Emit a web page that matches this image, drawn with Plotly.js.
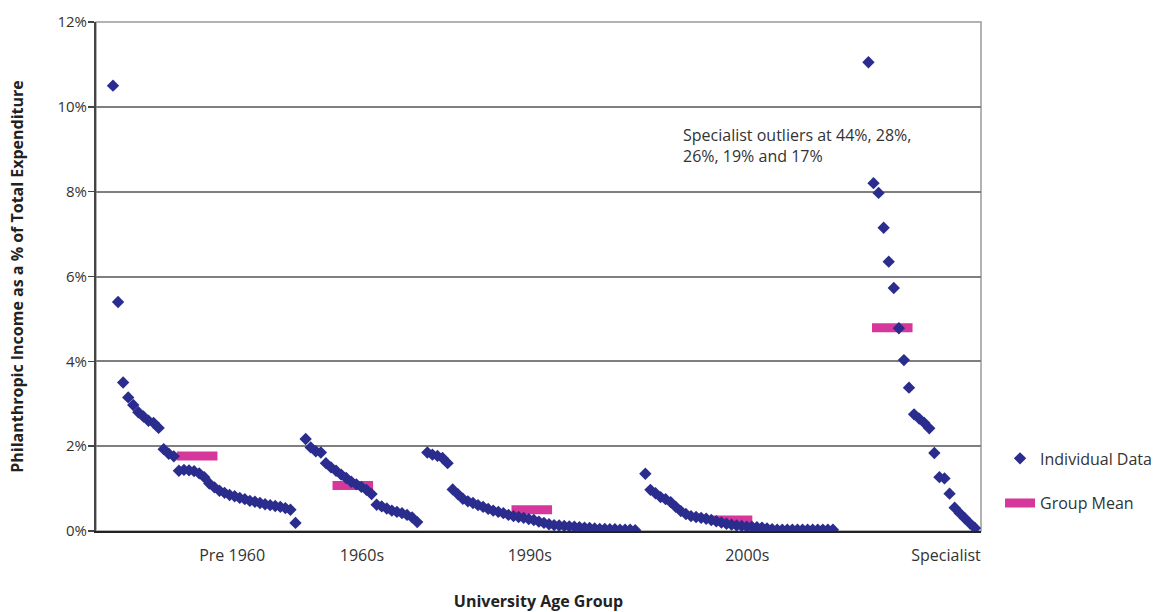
<!DOCTYPE html>
<html>
<head>
<meta charset="utf-8">
<script src="https://cdn.plot.ly/plotly-3.0.1.min.js"></script>
<style>html,body{margin:0;padding:0;background:#fff;}#chart{width:1168px;height:612px;}</style>
</head>
<body>
<div id="chart"></div>
<script>
// ---- Data (philanthropic income as % of total expenditure) ----
const groups = ["Pre 1960", "1960s", "1990s", "2000s", "Specialist"];

const pre1960 = [10.5, 5.4, 3.5, 3.15, 2.97, 2.8, 2.7, 2.6, 2.55, 2.43,
  1.93, 1.82, 1.76, 1.42, 1.44, 1.43, 1.41, 1.36, 1.27, 1.12,
  1.03, 0.95, 0.9, 0.85, 0.82, 0.78, 0.75, 0.71, 0.69, 0.66,
  0.63, 0.61, 0.59, 0.57, 0.54, 0.5, 0.19];

const sixties = [2.17, 1.97, 1.88, 1.85, 1.6, 1.5, 1.42, 1.33, 1.25, 1.16,
  1.1, 1.04, 0.97, 0.87, 0.62, 0.58, 0.53, 0.48, 0.45, 0.42,
  0.38, 0.32, 0.21];

const nineties = [1.85, 1.8, 1.77, 1.72, 1.6, 0.98, 0.87, 0.76, 0.7, 0.66,
  0.61, 0.57, 0.52, 0.48, 0.45, 0.42, 0.38, 0.35, 0.33, 0.31,
  0.28, 0.26, 0.22, 0.19, 0.16, 0.14, 0.13, 0.12, 0.11, 0.1,
  0.09, 0.08, 0.07, 0.06, 0.05, 0.05, 0.04, 0.04, 0.03, 0.03,
  0.03, 0.02];

const twoThousands = [1.35, 0.97, 0.89, 0.8, 0.75, 0.68, 0.57, 0.47, 0.4, 0.35,
  0.33, 0.31, 0.29, 0.26, 0.23, 0.2, 0.17, 0.15, 0.13, 0.12,
  0.1, 0.1, 0.09, 0.08, 0.06, 0.04, 0.03, 0.03, 0.03, 0.03,
  0.03, 0.03, 0.03, 0.03, 0.03, 0.03, 0.03, 0.03];

// first five are the off-scale outliers (44%, 28%, 26%, 19%, 17%)
const specialist = [44, 28, 26, 19, 17,
  11.05, 8.2, 7.97, 7.15, 6.35, 5.73, 4.78, 4.03, 3.38, 2.75,
  2.65, 2.55, 2.42, 1.84, 1.27, 1.24, 0.88, 0.55, 0.42, 0.3,
  0.18, 0.07];

const groupMean = [1.77, 1.07, 0.5, 0.26, 4.79];
const meanX = [17.6, 48.3, 83.6, 123.1, 154.7];   // x-value of each group-mean mark
const labelX = [24.5, 50.1, 83.2, 126.1, 165.3];  // x-value of each group label

// ---- Build series: institutions numbered in sequence, one empty slot between groups ----
const series = [pre1960, sixties, nineties, twoThousands, specialist];
const indX = [], indY = [];
let idx = 1;
series.forEach(function (s) {
  s.forEach(function (v) { indX.push(idx); indY.push(v); idx++; });
  idx++; // gap between groups
});

const HALF = 4;
const meanXs = [], meanYs = [];
groupMean.forEach(function (m, i) {
  meanXs.push(meanX[i] - HALF, meanX[i] + HALF, null);
  meanYs.push(m, m, null);
});

const FONT = "Open Sans, Noto Sans, sans-serif";

const traces = [
  {
    type: "scatter", mode: "lines", name: "Group Mean",
    x: meanXs, y: meanYs,
    line: { color: "#d6379b", width: 9 },
    legendrank: 2, legendgroup: "b", hoverinfo: "skip"
  },
  {
    type: "scatter", mode: "markers", name: "Individual Data",
    x: indX, y: indY,
    marker: { symbol: "diamond", size: 9.5, color: "#2b2d8e" },
    legendrank: 1, legendgroup: "a"
  }
];

const layout = {
  width: 1168, height: 612,
  margin: { l: 96, r: 187, t: 22, b: 81, pad: 0, autoexpand: false },
  paper_bgcolor: "#ffffff", plot_bgcolor: "#ffffff",
  font: { family: FONT, color: "#333333", size: 14 },
  showlegend: true,
  legend: {
    x: 1.0215, y: 0.176, xanchor: "left", yanchor: "top",
    font: { family: FONT, size: 16, color: "#333333" },
    tracegroupgap: 21, traceorder: "grouped", bgcolor: "rgba(0,0,0,0)"
  },
  xaxis: {
    range: [-2.35, 172.2],
    tickmode: "array", tickvals: labelX, ticktext: groups,
    ticks: "", ticklabelstandoff: 9,
    tickfont: { family: FONT, size: 16, color: "#333333" },
    showgrid: false, zeroline: false,
    showline: true, linecolor: "#222222", linewidth: 2,
    title: { text: "University Age Group", standoff: 32,
      font: { family: FONT, size: 16, color: "#222222", weight: "bold" } },
    automargin: false, fixedrange: true
  },
  yaxis: {
    range: [0, 12], dtick: 2, tick0: 0, ticksuffix: "%",
    ticks: "outside", ticklen: 6, tickwidth: 1.5, tickcolor: "#444444",
    ticklabelstandoff: -2,
    tickfont: { family: FONT, size: 15, color: "#333333" },
    showgrid: true, gridcolor: "#7f7f7f", gridwidth: 2,
    zeroline: false, showline: true, linecolor: "#444444", linewidth: 2,
    title: { text: "Philanthropic Income as a % of Total Expenditure", standoff: 30,
      font: { family: FONT, size: 16, color: "#222222", weight: "bold" } },
    automargin: false, fixedrange: true
  },
  shapes: [{
    type: "rect", xref: "paper", yref: "paper", x0: 0, x1: 1, y0: 0, y1: 1,
    line: { color: "#9a9a9a", width: 1.5 }, layer: "below"
  }],
  annotations: [{
    xref: "paper", yref: "paper", x: 0.661, y: 0.804, xanchor: "left", yanchor: "top",
    align: "left", showarrow: false,
    text: "Specialist outliers at 44%, 28%,<br>26%, 19% and 17%",
    font: { family: FONT, size: 16, color: "#333333" }
  }]
};

Plotly.newPlot("chart", traces, layout, { displayModeBar: false, staticPlot: true });
</script>
</body>
</html>
